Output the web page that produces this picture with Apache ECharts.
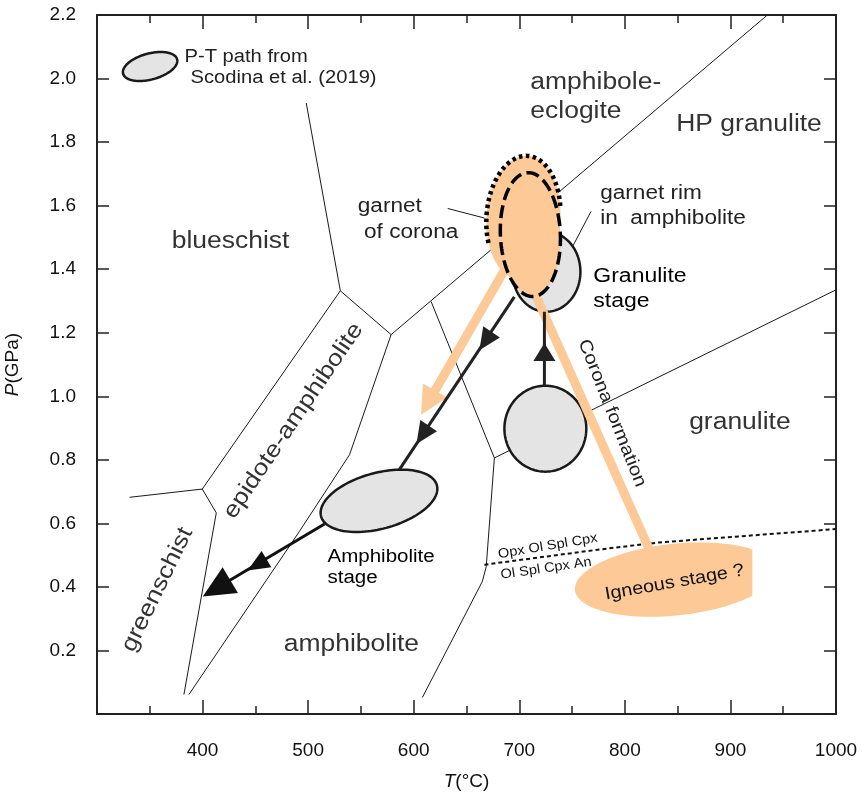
<!DOCTYPE html>
<html>
<head>
<meta charset="utf-8">
<script src="https://cdn.jsdelivr.net/npm/echarts@6/dist/echarts.min.js"></script>
<style>
  html, body { margin: 0; padding: 0; background: #fff; }
  #chart { width: 862px; height: 795px; }
</style>
</head>
<body>
<div id="chart"></div>
<script>
// all points are [T (°C), P (GPa)]
const xTicks = [300, 1000, 100]
const yTicks = [0, 2.2, 0.2]

// facies boundaries
const bigDiagonal = [[578.6, 1.194], [935, 2.2]]
const blueschistEA = [[530.5, 1.332], [578.6, 1.194]]
const blueschistAE = [[498.2, 1.923], [530.5, 1.332]]
const eaGreenschist = [[530.5, 1.332], [399.7, 0.708]]
const greenschistBox = [[330.9, 0.682], [399.7, 0.708], [413, 0.633], [382.3, 0.061]]
const eaAmphibolite = [[578.6, 1.194], [539.2, 0.816], [491.6, 0.574], [387, 0.061]]
const amphGranulite = [[616.5, 1.298], [676.4, 0.806], [668.7, 0.464], [665, 0.417], [608.2, 0.052]]
const granuliteHP = [[676.4, 0.806], [1000, 1.335]]
const plagReaction = [[667, 0.470], [774, 0.517], [832.5, 0.540], [1000, 0.582]]
const leaderCorona = [[632.2, 1.591], [667, 1.561]]
const leaderRim = [[768, 1.582], [750.6, 1.472]]

// ellipses: centre T, centre P, half width (°C), half height (GPa), tilt (deg)
const ellipseLegend = [350.3, 2.038, 26.5, 0.0409, 15]
const ellipseAmphibolite = [567.1, 0.671, 56.8, 0.0881, 15]
const ellipseEarly = [724.7, 0.898, 38.8, 0.1353, 0]
const ellipseGranulite = [725.7, 1.392, 32.2, 0.126, 0]
const ellipseCoronaOuter = [703.9, 1.562, 35, 0.195, -4]
const ellipseCoronaInner = [710.5, 1.509, 28.4, 0.195, 2.5]
const ellipseIgneous = [847.8, 0.423, 95.6, 0.113, 6]
const igneousCutT = 920.8

// P-T paths
const retroPath1 = [[695.3, 1.313], [586.4, 0.769]]
const retroPath1Heads = [[662.2, 1.145], [602.6, 0.850]]
const retroPath2 = [[515.5, 0.598], [400.2, 0.370]]
const retroPath2Heads = [[442.6, 0.452], [400.2, 0.370]]
const progradePath = [[723.8, 1.033], [723.8, 1.266]]
const progradeHeads = [[723.8, 1.168]]
const coronaArrow = [[692.7, 1.436], [607, 0.942]]
const coronaArrowHeads = [[607, 0.942]]
const coronaBand = [[713.3, 1.335], [823.2, 0.518]]

// text labels: text, T, P
const labels = [
  ['blueschist', 426.5, 1.486],
  ['amphibole-\neclogite', 710.5, 1.942],
  ['HP granulite', 848.7, 1.855],
  ['garnet\n of corona', 547, 1.556],
  ['garnet rim\nin  amphibolite', 776.6, 1.600],
  ['Granulite\nstage', 770.1, 1.339],
  ['Corona formation', 787.8, 0.947],
  ['granulite', 860.9, 0.917],
  ['epidote-amphibolite', 486.1, 0.923],
  ['greenschist', 357.3, 0.391],
  ['amphibolite', 541, 0.219],
  ['Amphibolite\nstage', 518.3, 0.462],
  ['Igneous stage ?', 847.1, 0.414],
  ['Opx Ol Spl Cpx', 727, 0.528],
  ['Ol Spl Cpx An', 725.4, 0.458],
  ['P-T path from', 382.9, 2.069],
  ['Scodina et al. (2019)', 388.6, 2.003]
]

const FONT = '"Liberation Sans", Arial, Helvetica, sans-serif'
const ink = '#1a1a1a'
const orange = '#fdc997'
const grey = '#e4e4e4'

// size, align, colour, rotation, line height, horizontal stretch (same order as labels)
const labelStyle = [
  [23, 'center', '#333', 0, 0, 1.15],
  [23, 'left', '#333', 0, 29, 1.15],
  [23, 'left', '#333', 0, 0, 1.15],
  [20, 'left', '#222', 0, 26, 1.13],
  [20, 'left', '#222', 0, 25, 1.13],
  [20, 'left', '#000', 0, 25, 1.15],
  [18, 'center', '#222', -68.3, 0, 1.13],
  [23, 'left', '#333', 0, 0, 1.15],
  [23, 'center', '#333', 55.9, 0, 1.15],
  [23, 'center', '#333', 64, 0, 1.15],
  [23, 'center', '#333', 0, 0, 1.15],
  [18, 'left', '#000', 0, 21, 1.14],
  [18, 'center', '#111', 10, 0, 1.1],
  [13.5, 'center', '#111', 9.5, 0, 1.08],
  [13.5, 'center', '#111', 8.4, 0, 1.08],
  [18, 'left', '#222', 0, 0, 1.12],
  [18, 'left', '#222', 0, 0, 1.12]
]

const chart = echarts.init(document.getElementById('chart'))

const lineSeries = (data, style, z) => ({
  type: 'line',
  data,
  symbol: 'none',
  silent: true,
  animation: false,
  z,
  lineStyle: style
})

const ellipsePts = (api, e, t0, t1, cutT) => {
  const c = api.coord([e[0], e[1]])
  const s = api.size([e[2], e[3]], [e[0], e[1]])
  const th = e[4] * Math.PI / 180
  const xCut = cutT != null ? api.coord([cutT, e[1]])[0] : Infinity
  const pts = []
  const n = 120
  for (let i = 0; i <= n; i++) {
    const t = t0 + (t1 - t0) * i / n
    const x = s[0] * Math.cos(t)
    const y = s[1] * Math.sin(t)
    pts.push([
      Math.min(xCut, c[0] + x * Math.cos(th) + y * Math.sin(th)),
      c[1] - x * Math.sin(th) + y * Math.cos(th)
    ])
  }
  return pts
}

const customSeries = (items, render, z) => ({
  type: 'custom',
  coordinateSystem: 'cartesian2d',
  silent: true,
  animation: false,
  z,
  data: items.map(it => it.anchor),
  renderItem: (params, api) => render(items[params.dataIndex], api)
})

const renderEllipse = (it, api) => {
  const children = []
  const full = ellipsePts(api, it.e, 0, Math.PI * 2, it.cut)
  children.push({
    type: 'polygon',
    shape: { points: full },
    style: {
      fill: it.fill,
      stroke: it.arc ? null : it.stroke,
      lineWidth: it.width || 0,
      lineDash: it.dash || null
    }
  })
  if (it.arc) {
    children.push({
      type: 'polyline',
      shape: { points: ellipsePts(api, it.e, it.arc[0], it.arc[1]) },
      style: { fill: null, stroke: it.stroke, lineWidth: it.width, lineDash: it.dash }
    })
  }
  return { type: 'group', children }
}

// shaft plus filled triangular heads, sized in pixels
const renderArrow = (it, api) => {
  const p0 = api.coord(it.path[0])
  const p1 = api.coord(it.path[it.path.length - 1])
  const dx = p1[0] - p0[0]
  const dy = p1[1] - p0[1]
  const d = Math.hypot(dx, dy)
  const ux = dx / d
  const uy = dy / d
  const children = []
  let end = p1
  it.heads.forEach(h => {
    const tp = api.coord(h)
    if (Math.hypot(tp[0] - p1[0], tp[1] - p1[1]) < 2) {
      end = [tp[0] - ux * it.len * 0.7, tp[1] - uy * it.len * 0.7]
    }
  })
  children.push({
    type: 'line',
    shape: { x1: p0[0], y1: p0[1], x2: end[0], y2: end[1] },
    style: { stroke: it.color, lineWidth: it.lw }
  })
  it.heads.forEach((h, i) => {
    const tp = api.coord(h)
    const len = (it.lens && it.lens[i]) || it.len
    const hw = ((it.ws && it.ws[i]) || it.w) / 2
    const bx = tp[0] - ux * len
    const by = tp[1] - uy * len
    children.push({
      type: 'polygon',
      shape: { points: [tp, [bx - uy * hw, by + ux * hw], [bx + uy * hw, by - ux * hw]] },
      style: { fill: it.color }
    })
  })
  return { type: 'group', children }
}

const renderLabel = (it, api) => {
  const p = api.coord(it.anchor)
  const st = it.style
  return {
    type: 'text',
    x: p[0],
    y: p[1],
    rotation: (st[3] || 0) * Math.PI / 180,
    scaleX: st[5] || 1,
    style: {
      text: it.text,
      fill: st[2],
      font: `${st[0]}px ${FONT}`,
      align: st[1],
      verticalAlign: 'middle',
      lineHeight: st[4] || Math.round(st[0] * 1.2)
    }
  }
}

const igneousLayer = [{ anchor: ellipseIgneous.slice(0, 2), e: ellipseIgneous, cut: igneousCutT, fill: orange }]
const greyLayer = [
  { anchor: ellipseLegend.slice(0, 2), e: ellipseLegend, fill: grey, stroke: ink, width: 2.5 },
  { anchor: ellipseAmphibolite.slice(0, 2), e: ellipseAmphibolite, fill: grey, stroke: ink, width: 2.5 },
  { anchor: ellipseEarly.slice(0, 2), e: ellipseEarly, fill: grey, stroke: ink, width: 2.5 },
  { anchor: ellipseGranulite.slice(0, 2), e: ellipseGranulite, fill: grey, stroke: ink, width: 2.5 }
]
const coronaLayer = [
  { anchor: ellipseCoronaOuter.slice(0, 2), e: ellipseCoronaOuter, fill: orange, stroke: '#000', width: 4.5, dash: [3.5, 3.5], arc: [2.68, 6.1] },
  { anchor: ellipseCoronaInner.slice(0, 2), e: ellipseCoronaInner, fill: orange, stroke: '#000', width: 3.5, dash: [13, 5.5] }
]
const orangeArrows = [
  { anchor: coronaBand[0], path: coronaBand, heads: [], color: orange, lw: 9, len: 0, w: 0 },
  { anchor: coronaArrow[0], path: coronaArrow, heads: coronaArrowHeads, color: orange, lw: 9, len: 28, w: 28 }
]
const blackArrows = [
  { anchor: retroPath1[0], path: retroPath1, heads: retroPath1Heads, color: '#222', lw: 3, len: 22, w: 20 },
  { anchor: retroPath2[0], path: retroPath2, heads: retroPath2Heads, color: '#111', lw: 3, len: 22, w: 19, lens: [22, 32], ws: [19, 30] },
  { anchor: progradePath[0], path: progradePath, heads: progradeHeads, color: '#222', lw: 3, len: 18, w: 22 }
]
const labelItems = labels.map((l, i) => ({ anchor: [l[1], l[2]], text: l[0], style: labelStyle[i] }))

const axisLine = { onZero: false, lineStyle: { color: '#222', width: 2 } }
const tickStyle = { color: '#222', width: 1.5 }
const axisFont = { fontSize: 19, color: '#111', fontFamily: FONT }

const xBase = {
  type: 'value',
  min: xTicks[0],
  max: xTicks[1],
  interval: xTicks[2],
  axisLine,
  axisTick: { inside: true, length: 14, lineStyle: tickStyle },
  minorTick: { show: true, splitNumber: 2, length: 8, lineStyle: tickStyle },
  splitLine: { show: false },
  minorSplitLine: { show: false }
}
const yBase = {
  type: 'value',
  min: yTicks[0],
  max: yTicks[1],
  interval: yTicks[2],
  axisLine,
  axisTick: { inside: true, length: 12, lineStyle: tickStyle },
  splitLine: { show: false }
}

const option = {
  animation: false,
  backgroundColor: '#fff',
  grid: { left: 97, top: 15, width: 739, height: 699, outerBoundsMode: 'none', containLabel: false },
  xAxis: [
    {
      ...xBase,
      position: 'bottom',
      axisLabel: { ...axisFont, margin: 27, formatter: v => (v === xTicks[0] ? '' : String(v)) },
      name: '{i|T}(°C)',
      nameLocation: 'middle',
      nameGap: 58,
      nameTextStyle: { ...axisFont, rich: { i: { ...axisFont, fontStyle: 'italic' } } }
    },
    { ...xBase, position: 'top', axisLabel: { show: false } }
  ],
  yAxis: [
    {
      ...yBase,
      position: 'left',
      axisLabel: { ...axisFont, margin: 21, formatter: v => (v === 0 ? '' : v.toFixed(1)) },
      name: '{i|P}(GPa)',
      nameLocation: 'middle',
      nameGap: 75,
      nameTextStyle: { ...axisFont, rich: { i: { ...axisFont, fontStyle: 'italic' } } }
    },
    { ...yBase, position: 'right', axisLabel: { show: false } }
  ],
  series: [
    lineSeries(bigDiagonal, { color: ink, width: 1 }, 1),
    lineSeries(blueschistEA, { color: ink, width: 1 }, 1),
    lineSeries(blueschistAE, { color: ink, width: 1 }, 1),
    lineSeries(eaGreenschist, { color: ink, width: 1 }, 1),
    lineSeries(greenschistBox, { color: ink, width: 1 }, 1),
    lineSeries(eaAmphibolite, { color: ink, width: 1 }, 1),
    lineSeries(amphGranulite, { color: ink, width: 1 }, 1),
    lineSeries(granuliteHP, { color: ink, width: 1 }, 1),
    lineSeries(leaderCorona, { color: ink, width: 1 }, 1),
    lineSeries(leaderRim, { color: ink, width: 1 }, 1),
    customSeries(igneousLayer, renderEllipse, 2),
    lineSeries(plagReaction, { color: '#111', width: 2, type: [4, 3] }, 3),
    customSeries(greyLayer, renderEllipse, 4),
    customSeries(orangeArrows, renderArrow, 5),
    customSeries(coronaLayer, renderEllipse, 6),
    customSeries(blackArrows, renderArrow, 7),
    customSeries(labelItems, renderLabel, 8)
  ]
}

chart.setOption(option)
</script>
</body>
</html>
